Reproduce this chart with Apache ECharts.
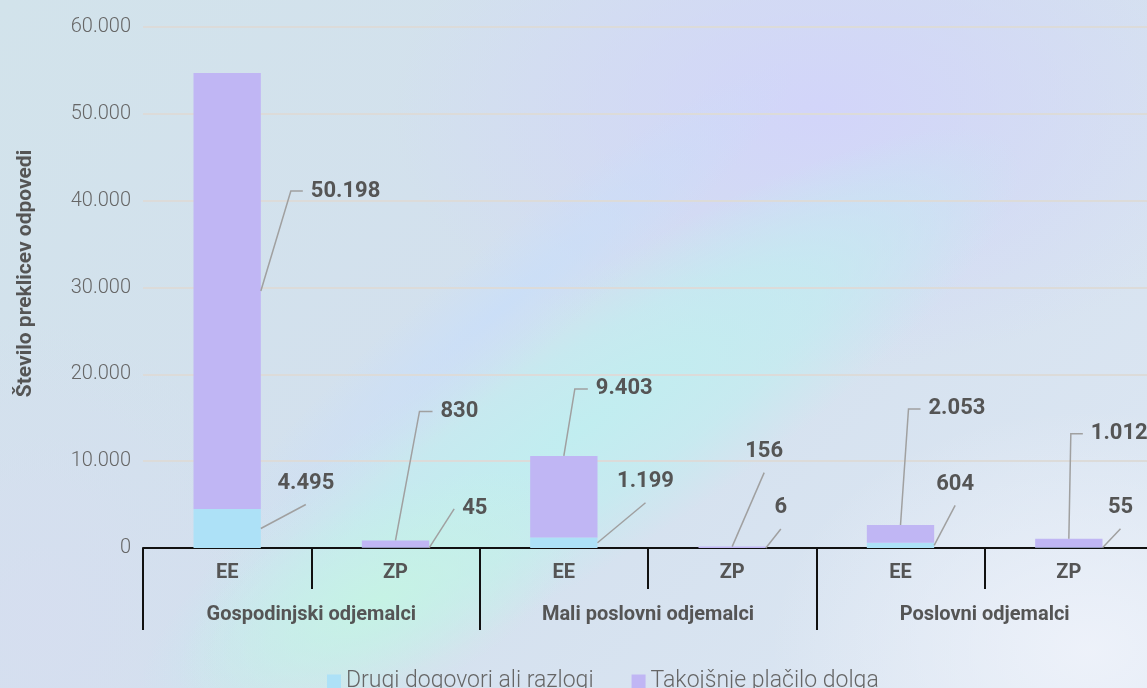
<!DOCTYPE html>
<html>
<head>
<meta charset="utf-8">
<script src="https://cdn.jsdelivr.net/npm/echarts@6/dist/echarts.min.js"></script>
<style>
html,body{margin:0;padding:0;width:1147px;height:688px;overflow:hidden;position:relative;}
body{
  background:
    radial-gradient(ellipse 430px 260px at 820px 110px, rgba(210,212,250,0.95), rgba(210,212,250,0) 100%),
    radial-gradient(ellipse 320px 240px at 1090px 650px, rgba(238,242,250,0.95), rgba(238,242,250,0) 100%),
    radial-gradient(ellipse 240px 300px at 40px 620px, rgba(214,222,240,0.9), rgba(214,222,240,0) 100%),
    linear-gradient(135deg, #d2e3eb 0%, #d3e0ee 50%, #dde7f3 100%);
}
.blob{position:absolute;border-radius:50%;pointer-events:none;}
#band{left:60px;top:300px;width:1040px;height:260px;transform:rotate(-33deg);
  background:radial-gradient(closest-side, rgba(192,238,240,0.95), rgba(192,238,240,0.65) 55%, rgba(192,238,240,0) 100%);}
#streak{left:120px;top:250px;width:760px;height:120px;transform:rotate(-40deg);
  background:radial-gradient(closest-side, rgba(200,222,250,0.75), rgba(200,222,250,0) 100%);}
#mint{left:160px;top:500px;width:440px;height:200px;transform:rotate(-25deg);
  background:radial-gradient(closest-side, rgba(198,243,228,0.95), rgba(198,243,228,0) 100%);}
#chart{position:absolute;left:0;top:0;width:1147px;height:688px;}
</style>
</head>
<body>
<div class="blob" id="band"></div>
<div class="blob" id="streak"></div>
<div class="blob" id="mint"></div>
<div id="chart"></div>
<script>
// ---- data ----
const categories = ['EE', 'ZP', 'EE', 'ZP', 'EE', 'ZP'];
const groups = ['Gospodinjski odjemalci', 'Mali poslovni odjemalci', 'Poslovni odjemalci'];
const seriesNames = ['Drugi dogovori ali razlogi', 'Takojšnje plačilo dolga'];
const drugi = [4495, 45, 1199, 6, 604, 55];
const takojsnje = [50198, 830, 9403, 156, 2053, 1012];
const yTicks = { min: 0, max: 60000, interval: 10000 };

// ---- annotation layout (style only) ----
const purpleLayout = [
  { anchor: 'side', dx: 30, dy: -100, tail: 12, text: 'right' },
  { anchor: 'top', dx: 24, dy: -129, tail: 13, text: 'right' },
  { anchor: 'top', dx: 11, dy: -67, tail: 13, text: 'right' },
  { anchor: 'top', dx: 32, dy: -74, tail: 0, text: 'above' },
  { anchor: 'top', dx: 8, dy: -116, tail: 12, text: 'right' },
  { anchor: 'top', dx: 2, dy: -105, tail: 12, text: 'right' }
];
const blueLayout = [
  { dx: 45, dy: -24, text: 'above' },
  { dx: 25, dy: -39, text: 'right' },
  { dx: 48, dy: -40, text: 'above' },
  { dx: 15, dy: -19, text: 'above' },
  { dx: 21, dy: -40, text: 'above' },
  { dx: 18, dy: -19, text: 'above' }
];

const BLUE = '#ade1f7';
const PURPLE = '#c0b6f4';
const TXT = '#555555';
const LEADER = '#a0a0a0';
const BAR_FRAC = 0.4;
const FONT = 'Roboto, "Noto Sans", sans-serif';

function fmt(v) { return String(v).replace(/\B(?=(\d{3})+(?!\d))/g, '.'); }

function labelEl(x, y, text, mode) {
  const s = { text: text, fill: TXT, fontSize: 22, fontWeight: 'bold', fontFamily: FONT };
  if (mode === 'right') { s.x = x + 8; s.y = y; s.align = 'left'; s.verticalAlign = 'middle'; }
  else { s.x = x; s.y = y - 21; s.align = 'center'; s.verticalAlign = 'middle'; }
  return { type: 'text', style: s };
}

function renderAnnot(params, api) {
  const i = api.value(0);
  const b = api.value(1), p = api.value(2);
  const band = api.size([1, 0])[0];
  const half = band * BAR_FRAC / 2;
  const base = api.coord([i, 0]);
  const cx = base[0];
  const yB = api.coord([i, b])[1];
  const yT = api.coord([i, b + p])[1];
  const children = [];
  const lineStyle = { stroke: LEADER, lineWidth: 1.5, fill: null };

  const bl = blueLayout[i];
  const ax = cx + half, ay = (base[1] + yB) / 2;
  const ex = ax + bl.dx, ey = ay + bl.dy;
  children.push({ type: 'polyline', shape: { points: [[ax, ay], [ex, ey]] }, style: lineStyle });
  children.push(labelEl(ex, ey, fmt(b), bl.text));

  const pl = purpleLayout[i];
  let px, py;
  if (pl.anchor === 'side') { px = cx + half; py = (yB + yT) / 2; }
  else { px = cx; py = yT; }
  const elx = px + pl.dx, ely = py + pl.dy;
  const pts = [[px, py], [elx, ely]];
  if (pl.tail) pts.push([elx + pl.tail, ely]);
  children.push({ type: 'polyline', shape: { points: pts }, style: lineStyle });
  const last = pts[pts.length - 1];
  children.push(labelEl(last[0], last[1], fmt(p), pl.text));

  return { type: 'group', children: children };
}

const chart = echarts.init(document.getElementById('chart'), null, { renderer: 'canvas' });
chart.setOption({
  backgroundColor: 'transparent',
  animation: false,
  grid: { left: 143, width: 1010, top: 27, bottom: 140, containLabel: false, outerBoundsMode: 'none' },
  legend: {
    data: seriesNames,
    left: 322,
    top: 665,
    icon: 'rect',
    itemWidth: 14,
    itemHeight: 14,
    itemGap: 38,
    textStyle: { fontSize: 23, color: '#666', fontWeight: 300, fontFamily: FONT }
  },
  xAxis: [
    {
      type: 'category',
      data: categories,
      position: 'bottom',
      axisLine: { show: true, lineStyle: { color: '#111', width: 2 } },
      axisTick: { show: true, length: 41, lineStyle: { color: '#111', width: 2 } },
      axisLabel: { margin: 15, fontSize: 20, fontWeight: 'bold', color: TXT, fontFamily: FONT },
      splitLine: { show: false }
    },
    {
      type: 'category',
      data: groups,
      position: 'bottom',
      axisLine: { show: false },
      axisTick: { show: true, length: 82, lineStyle: { color: '#111', width: 2 } },
      axisLabel: { margin: 57, fontSize: 20, fontWeight: 'bold', color: TXT, fontFamily: FONT },
      splitLine: { show: false }
    }
  ],
  yAxis: {
    type: 'value',
    min: yTicks.min,
    max: yTicks.max,
    interval: yTicks.interval,
    name: 'Število preklicev odpovedi',
    nameLocation: 'middle',
    nameGap: 107,
    nameTextStyle: { fontSize: 21, fontWeight: 'bold', color: TXT, fontFamily: FONT, padding: [0, 0, 0, 28] },
    axisLine: { show: false },
    axisTick: { show: false },
    axisLabel: { margin: 12, fontSize: 20, fontWeight: 300, color: '#666', fontFamily: FONT, formatter: fmt },
    splitLine: { show: true, lineStyle: { color: '#dcdbd9', width: 2 } }
  },
  series: [
    {
      name: seriesNames[0], type: 'bar', stack: 'total', xAxisIndex: 0,
      barWidth: (BAR_FRAC * 100) + '%', itemStyle: { color: BLUE }, data: drugi, z: 3
    },
    {
      name: seriesNames[1], type: 'bar', stack: 'total', xAxisIndex: 0,
      barWidth: (BAR_FRAC * 100) + '%', itemStyle: { color: PURPLE }, data: takojsnje, z: 3
    },
    {
      type: 'custom', name: 'labels', xAxisIndex: 0, yAxisIndex: 0, silent: true, z: 10, clip: false,
      renderItem: renderAnnot,
      encode: { x: 0, y: [1, 2] },
      data: drugi.map((d, i) => [i, d, takojsnje[i]])
    }
  ]
});
</script>
</body>
</html>
